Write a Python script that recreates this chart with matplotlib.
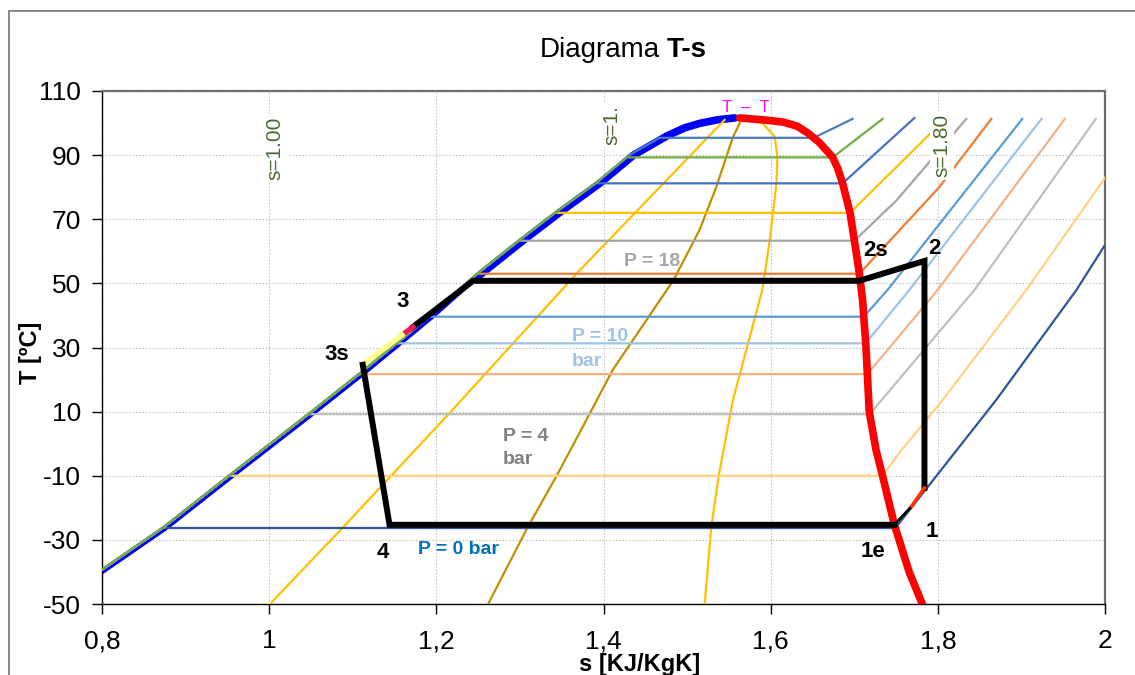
import numpy as np
import matplotlib
matplotlib.use("Agg")
import matplotlib.pyplot as plt
from matplotlib.patches import Rectangle

plt.rcParams['font.family'] = ['Liberation Sans', 'DejaVu Sans']
plt.rcParams['axes.unicode_minus'] = False

# ---- saturation dome (R-134a style T-s chart) ----
s_liq = np.array([0.790, 0.878, 0.957, 1.051, 1.113, 1.158, 1.196, 1.252,
                  1.303, 1.347, 1.396, 1.436, 1.476, 1.497, 1.515, 1.536, 1.557])
T_liq = np.array([-42.0, -26.2, -10.0, 9.0, 21.8, 31.4, 39.6, 52.6,
                  63.2, 72.0, 81.3, 90.0, 96.0, 98.5, 99.9, 101.0, 101.6])

s_vap = np.array([1.563, 1.595, 1.615, 1.632, 1.645, 1.658, 1.674, 1.680, 1.686, 1.695,
                  1.700, 1.706, 1.710, 1.714, 1.718, 1.726, 1.733, 1.748, 1.766, 1.783])
T_vap = np.array([101.6, 100.9, 100.3, 99.0, 96.8, 94.0, 89.4, 86.0, 81.3, 72.0,
                  63.6, 53.3, 44.8, 30.2, 9.9, -1.9, -9.1, -25.3, -40.2, -51.0])

# ---- isobars: saturation temperature, colour, superheated branch ----
iso_Tsat = [-26.3, -10.0, 9.2, 21.7, 31.3, 39.6, 53.0, 63.3, 72.0, 81.2, 95.4, 89.3]
iso_colors = ['#2F5597', '#FFD280', '#BFBFBF', '#F4B183', '#9DC3E6', '#5B9BD5',
              '#ED7D31', '#A5A5A5', '#FFC000', '#4472C4', '#4A7EBB', '#70AD47']
iso_sh_s = [[1.787, 1.870, 1.966, 2.000],
            [1.755, 1.806, 1.906, 2.000],
            [1.844, 1.989],
            [1.800, 1.952],
            [1.766, 1.924],
            [1.740, 1.901],
            [1.802, 1.864],
            [1.751, 1.834],
            [1.787, 1.808],
            [1.772],
            [1.698],
            [1.734]]
iso_sh_T = [[-13.8, 13.7, 48.0, 62.0],
            [-2.5, 13.7, 48.0, 82.9],
            [48.0, 101.3],
            [48.0, 101.3],
            [48.0, 101.3],
            [48.0, 101.3],
            [80.1, 101.3],
            [76.0, 101.3],
            [95.7, 101.3],
            [101.6],
            [101.3],
            [101.3]]

# ---- constant-quality style lines inside the dome ----
q1_s = [1.001, 1.088, 1.216, 1.372, 1.545]
q1_T = [-50.0, -26.2, 9.6, 54.2, 101.0]
q2_s = [1.262, 1.309, 1.344, 1.384, 1.411, 1.484, 1.515, 1.535, 1.555, 1.563]
q2_T = [-50.0, -26.2, -10.0, 9.6, 23.0, 51.1, 66.7, 80.1, 95.7, 100.0]
q3_s = [1.521, 1.529, 1.538, 1.555, 1.590, 1.599, 1.607, 1.608, 1.605, 1.590, 1.573]
q3_T = [-50.0, -26.0, -9.7, 13.7, 48.0, 63.6, 81.3, 89.4, 95.7, 100.0, 101.3]

# ---- refrigeration cycle ----
cyc_s = [1.784, 1.784, 1.706, 1.244, 1.172]          # 1 -> 2 -> 2s -> 3
cyc_T = [-13.8, 57.0, 50.8, 50.8, 36.4]
sub1_s, sub1_T = [1.172, 1.159], [36.4, 33.9]
sub2_s, sub2_T = [1.159, 1.112], [33.9, 24.6]
exp_s = [1.112, 1.144, 1.748]                         # 3s -> 4 -> 1e
exp_T = [24.6, -25.3, -25.3]
sh1_s, sh1_T = [1.748, 1.769], [-25.3, -19.4]
sh2_s, sh2_T = [1.769, 1.784], [-19.4, -13.8]

x_ticks = [0.8, 1.0, 1.2, 1.4, 1.6, 1.8, 2.0]
x_ticklabels = ['0,8', '1', '1,2', '1,4', '1,6', '1,8', '2']
y_ticks = [-50, -30, -10, 10, 30, 50, 70, 90, 110]

LIQ_SHIFT = 0.005

W, H = 1135, 675
fig = plt.figure(figsize=(W / 100, H / 100), dpi=100)
ax = fig.add_axes([102 / W, 1 - 604 / H, (1105 - 102) / W, (604 - 91) / H])
ax.set_xlim(0.8, 2.0)
ax.set_ylim(-50, 110)

# outer chart frame
fig.patches.append(Rectangle((9 / W, -0.2), 1.5, 1.2 - 11 / H, transform=fig.transFigure,
                             fill=False, edgecolor='#7F7F7F', lw=1.3, clip_on=False))

ax.set_axisbelow(True)
ax.grid(True, color='#C4C4C4', linestyle=(0, (1.5, 1.5)), lw=0.8)

# saturated liquid
ax.plot(s_liq, T_liq, color='#0000FF', lw=2.6, zorder=2.5, solid_capstyle='butt')
m = T_liq >= 45
ax.plot(s_liq[m], T_liq[m], color='#0000FF', lw=5.5, zorder=2.5, solid_capstyle='round')

# quality lines
ax.plot(q1_s, q1_T, color='#FFC000', lw=1.6, zorder=2.7)
ax.plot(q2_s, q2_T, color='#BF9000', lw=1.6, zorder=2.7)
ax.plot(q3_s, q3_T, color='#FFC000', lw=1.6, zorder=2.7)

# isobars
Tv_inc, sv_inc = T_vap[::-1], s_vap[::-1]
for Tsat, col, shs, sht in zip(iso_Tsat, iso_colors, iso_sh_s, iso_sh_T):
    mask = T_liq < Tsat
    s_l = np.r_[s_liq[mask], np.interp(Tsat, T_liq, s_liq)] - LIQ_SHIFT
    T_l = np.r_[T_liq[mask], Tsat]
    s_v = np.interp(Tsat, Tv_inc, sv_inc)
    ax.plot(np.r_[s_l, s_v, shs], np.r_[T_l, Tsat, sht], color=col, lw=1.6, zorder=3)

# saturated vapour
ax.plot(s_vap, T_vap, color='#FF0000', lw=5.5, zorder=4, solid_capstyle='round',
        solid_joinstyle='round')

# cycle
ax.plot(cyc_s, cyc_T, color='black', lw=4.3, zorder=6, solid_joinstyle='miter')
ax.plot(sub1_s, sub1_T, color='#F0145A', lw=3.8, zorder=6)
ax.plot(sub2_s, sub2_T, color='#FFFF8C', lw=3.8, zorder=6)
ax.plot(exp_s, exp_T, color='black', lw=4.3, zorder=6, solid_joinstyle='miter')
ax.plot(sh1_s, sh1_T, color='black', lw=2.0, zorder=6)
ax.plot(sh2_s, sh2_T, color='#FF3300', lw=2.6, zorder=6)

# axes styling
ax.set_xticks(x_ticks)
ax.set_xticklabels(x_ticklabels)
ax.set_yticks(y_ticks)
ax.tick_params(axis='both', direction='out', length=7, width=1.0,
               labelsize=19, colors='black')
ax.tick_params(axis='x', pad=11)
ax.tick_params(axis='y', pad=8)
for side in ('left', 'bottom'):
    ax.spines[side].set_color('black')
    ax.spines[side].set_linewidth(1.0)
for side in ('top', 'right'):
    ax.spines[side].set_color('#6E6E6E')
    ax.spines[side].set_linewidth(1.6)

# titles
fig.text(660 / W, 1 - 50 / H, 'Diagrama', ha='right', va='center', fontsize=20)
fig.text(667 / W, 1 - 50 / H, 'T-s', ha='left', va='center', fontsize=20, weight='bold')
fig.text(30 / W, 1 - 353 / H, 'T [ºC]', rotation=90, ha='center', va='center',
         fontsize=17, weight='bold')
fig.text(640 / W, 1 - 665 / H, 's [KJ/KgK]', ha='center', va='center',
         fontsize=17, weight='bold')

# entropy labels
for sx, ty, txt in [(1.007, 92.2, 's=1.00'), (1.410, 99.4, 's=1.'), (1.805, 92.9, 's=1.80')]:
    ax.text(sx, ty, txt, rotation=90, ha='center', va='center', fontsize=15,
            color='#4B6A2C', zorder=5,
            bbox=dict(boxstyle='square,pad=0.12', fc='white', ec='none'))
ax.text(1.570, 104.7, 'T  –  T', ha='center', va='center', fontsize=12, color='#FF00FF', zorder=5)

# pressure labels
lab_kw = dict(ha='left', va='center', fontsize=14, weight='bold', zorder=7)
ax.text(1.458, 56.7, 'P = 18', color='#A6A6A6', **{**lab_kw, 'ha': 'center'})
ax.text(1.362, 33.3, 'P = 10', color='#9DC3E6', **lab_kw)
ax.text(1.362, 25.5, 'bar', color='#9DC3E6', **lab_kw)
ax.text(1.280, 2.2, 'P = 4', color='#808080', **lab_kw)
ax.text(1.280, -5.0, 'bar', color='#808080', **lab_kw)
ax.text(1.178, -33.1, 'P = 0 bar', color='#0070C0', **lab_kw)

# state point labels
for sx, ty, txt in [(1.160, 44.2, '3'), (1.081, 27.7, '3s'), (1.136, -34.0, '4'),
                    (1.726, 60.4, '2s'), (1.796, 60.8, '2'), (1.793, -27.5, '1'),
                    (1.723, -33.7, '1e')]:
    ax.text(sx, ty, txt, ha='center', va='center', fontsize=16, weight='bold',
            color='black', zorder=7)

fig.savefig('out.png', dpi=100)
